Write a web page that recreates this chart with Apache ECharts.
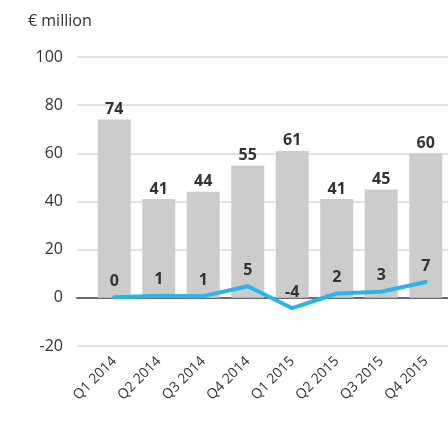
<!DOCTYPE html>
<html>
<head>
<meta charset="utf-8">
<script src="https://cdn.jsdelivr.net/npm/echarts@6/dist/echarts.min.js"></script>
<style>
  html, body { margin: 0; padding: 0; background: #fff; }
  #chart { width: 448px; height: 447px; }
</style>
</head>
<body>
<div id="chart"></div>
<script>
const quarters = ['Q1 2014', 'Q2 2014', 'Q3 2014', 'Q4 2014', 'Q1 2015', 'Q2 2015', 'Q3 2015', 'Q4 2015'];
const barValues = [74, 41, 44, 55, 61, 41, 45, 60];
const lineValues = [0.2, 0.9, 0.7, 4.8, -4.3, 1.8, 2.5, 6.6];

const FONT = '"Open Sans", "Noto Sans", sans-serif';
const TEXT = '#333333';

const chart = echarts.init(document.getElementById('chart'));

chart.setOption({
  backgroundColor: '#ffffff',
  animation: false,
  textStyle: { fontFamily: FONT },
  title: {
    text: '€ million',
    left: 23,
    top: 8,
    textStyle: { fontFamily: FONT, fontSize: 16, fontWeight: 'normal', color: TEXT }
  },
  grid: [
    // background grid: gridlines, y labels and zero line across full width
    { left: 77, right: 0, top: 57, bottom: 101 },
    // bars and line
    { left: 92, right: -6, top: 57, bottom: 101 }
  ],
  xAxis: [
    {
      gridIndex: 0, type: 'value', min: 0, max: 1,
      axisLine: { show: true, onZero: true, lineStyle: { color: '#6b6b6b', width: 2 } },
      axisTick: { show: false }, axisLabel: { show: false }, splitLine: { show: false }
    },
    {
      gridIndex: 1, type: 'category', data: quarters,
      axisLine: { show: false }, axisTick: { show: false },
      axisLabel: {
        rotate: 45, margin: 13, color: TEXT, fontFamily: FONT, fontSize: 14, interval: 0
      }
    }
  ],
  yAxis: [
    {
      gridIndex: 0, type: 'value', min: -20, max: 100, interval: 20,
      axisLine: { show: false }, axisTick: { show: false },
      axisLabel: { color: TEXT, fontFamily: FONT, fontSize: 16, margin: 14 },
      splitLine: { lineStyle: { color: '#d9d9d9', width: 1.5 } }
    },
    {
      gridIndex: 1, type: 'value', min: -20, max: 100, interval: 20,
      axisLine: { show: false }, axisTick: { show: false },
      axisLabel: { show: false }, splitLine: { show: false }
    }
  ],
  series: [
    {
      type: 'bar',
      xAxisIndex: 1, yAxisIndex: 1,
      data: barValues,
      barWidth: 33,
      itemStyle: { color: '#cccccc' },
      label: {
        show: true, position: 'top', distance: 2,
        color: TEXT, fontFamily: FONT, fontSize: 16, fontWeight: 'bold'
      }
    },
    {
      type: 'line',
      xAxisIndex: 1, yAxisIndex: 1,
      data: lineValues,
      symbol: 'circle', symbolSize: 0, showSymbol: true,
      lineStyle: { color: '#29b5e8', width: 4, cap: 'round', join: 'round' },
      itemStyle: { color: '#29b5e8' },
      label: {
        show: true, position: 'top', distance: 8,
        color: TEXT, fontFamily: FONT, fontSize: 16, fontWeight: 'bold',
        formatter: (p) => Math.round(p.value)
      },
      z: 5
    }
  ]
});
</script>
</body>
</html>
